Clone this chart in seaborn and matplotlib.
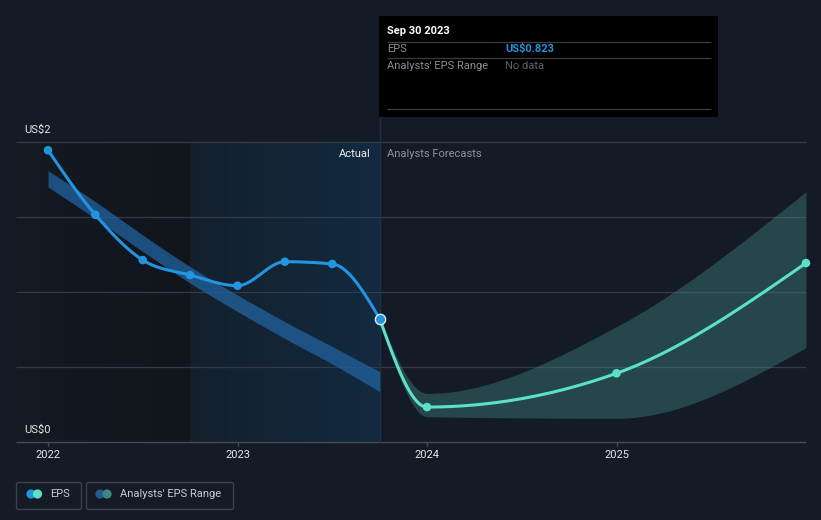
import numpy as np
import pandas as pd
import matplotlib
matplotlib.use("Agg")
import matplotlib.pyplot as plt
import seaborn as sns
from matplotlib.colors import LinearSegmentedColormap
from matplotlib.patches import FancyBboxPatch, Rectangle, Circle
from matplotlib.transforms import IdentityTransform

W, H = 821, 520

# EPS real (trimestral)
eps_dates = [2022.0, 2022.25, 2022.5, 2022.75, 2023.0, 2023.25, 2023.5, 2023.75]
eps_values = [1.945, 1.515, 1.213, 1.113, 1.042, 1.202, 1.187, 0.823]

# banda histórica de estimaciones
past_low = [1.70, 1.49, 1.27, 1.06, 0.87, 0.69, 0.52, 0.336]
past_high = [1.809, 1.602, 1.38, 1.169, 0.98, 0.802, 0.636, 0.469]

# pronóstico de analistas
fc_dates = [2023.75, 2024.0, 2025.0, 2026.0]
fc_values = [0.823, 0.233, 0.458, 1.193]
fc_low = [0.823, 0.169, 0.158, 0.629]
fc_high = [0.823, 0.324, 0.769, 1.669]

year_ticks = [2022, 2023, 2024, 2025]
grid_values = [0, 0.5, 1.0, 1.5, 2.0]

BG = "#151b26"
BLUE = "#2394df"
MINT = "#5ce1c9"
GRID = "#353b46"

# mapeo pixel <-> datos (eje ocupa toda la figura)
PPX = 189.5
PPY = 150.0
X0 = 2022 - 48 / PPX
Y_TOP = 442 / PPY


def px(xp):
    return X0 + xp / PPX


def py(yp):
    return Y_TOP - yp / PPY


def monotone(xs, ys, n=40):
    # curva monotona tipo d3.curveMonotoneX
    x = np.asarray(xs, float)
    y = np.asarray(ys, float)
    h = np.diff(x)
    s = np.diff(y) / h
    m = np.zeros_like(x)
    for i in range(1, len(x) - 1):
        p = (s[i - 1] * h[i] + s[i] * h[i - 1]) / (h[i - 1] + h[i])
        m[i] = (np.sign(s[i - 1]) + np.sign(s[i])) * min(abs(s[i - 1]), abs(s[i]), 0.5 * abs(p))
    m[0] = (3 * s[0] - m[1]) / 2
    m[-1] = (3 * s[-1] - m[-2]) / 2
    out_x, out_y = [], []
    for i in range(len(x) - 1):
        t = np.linspace(0, 1, n, endpoint=(i == len(x) - 2))
        h00 = 2 * t**3 - 3 * t**2 + 1
        h10 = t**3 - 2 * t**2 + t
        h01 = -2 * t**3 + 3 * t**2
        h11 = t**3 - t**2
        out_x.append(x[i] + t * h[i])
        out_y.append(h00 * y[i] + h10 * h[i] * m[i] + h01 * y[i + 1] + h11 * h[i] * m[i + 1])
    return np.concatenate(out_x), np.concatenate(out_y)


sns.set_theme(style="dark")
plt.rcParams["font.family"] = ["Roboto", "DejaVu Sans"]

fig = plt.figure(figsize=(W / 100, H / 100), dpi=100, facecolor=BG)
ax = fig.add_axes([0, 0, 1, 1])
ax.set_facecolor(BG)
ax.set_xlim(X0, X0 + W / PPX)
ax.set_ylim(Y_TOP - H / PPY, Y_TOP)
ax.axis("off")

x_left, x_right = px(16), 2026.0

# zonas sombreadas
grad = np.linspace(0, 1, 256).reshape(1, -1)
dark_cmap = LinearSegmentedColormap.from_list("d", ["#151a23", "#11151c"])
ax.imshow(grad, cmap=dark_cmap, aspect="auto", interpolation="bilinear",
          extent=[x_left, 2022.75, 0, 2], zorder=0)
hl_cmap = LinearSegmentedColormap.from_list("h", ["#14202c", "#122a40"])
ax.imshow(grad, cmap=hl_cmap, aspect="auto", interpolation="bilinear",
          extent=[2022.75, 2023.75, 0, 2], zorder=0)

# rejilla
ax.hlines(grid_values[1:], x_left, x_right, color=GRID, lw=0.9, zorder=1)
ax.hlines(0, x_left, x_right, color="#454a54", lw=1.0, zorder=1)
for yr in year_ticks:
    ax.vlines(yr, py(442), py(446), color="#454a54", lw=1.0, zorder=1)

# linea vertical del tooltip
ax.vlines(2023.75, 0, py(15), color="#1d3247", lw=1.0, zorder=1)

# banda historica
bx, bl = monotone(eps_dates, past_low)
_, bh = monotone(eps_dates, past_high)
ax.fill_between(bx, bl, bh, color="#21609a", alpha=0.78, lw=0, zorder=2)

# banda de pronostico
fx, fl = monotone(fc_dates, fc_low)
_, fh = monotone(fc_dates, fc_high)
ax.fill_between(fx, fl, fh, color="#3d8582", alpha=0.42, lw=0, zorder=2)

# lineas EPS
ex, ey = monotone(eps_dates, eps_values)
sns.lineplot(data=pd.DataFrame({"x": ex, "y": ey}), x="x", y="y", ax=ax, color=BLUE,
             lw=2.2, sort=False, estimator=None, zorder=4)
gx, gy = monotone(fc_dates, fc_values)
sns.lineplot(data=pd.DataFrame({"x": gx, "y": gy}), x="x", y="y", ax=ax, color=MINT,
             lw=2.2, sort=False, estimator=None, zorder=4)

sns.scatterplot(x=eps_dates[:-1], y=eps_values[:-1], ax=ax, color=BLUE, s=38,
                edgecolor="none", zorder=5)
sns.scatterplot(x=fc_dates[1:], y=fc_values[1:], ax=ax, color=MINT, s=38,
                edgecolor="none", zorder=5)
sns.scatterplot(x=[eps_dates[-1]], y=[eps_values[-1]], ax=ax, color=BLUE, s=55,
                edgecolor="#dfe9f3", linewidth=1.0, zorder=6)

# etiquetas del eje
ax.text(px(24), 2.08, "US$2", color="#e6e6e6", fontsize=8, va="center", ha="left")
ax.text(px(24), 0.08, "US$0", color="#e6e6e6", fontsize=8, va="center", ha="left")
for yr in year_ticks:
    ax.text(yr, py(455), str(yr), color="#e6e6e6", fontsize=8, va="center", ha="center")

ax.text(px(371), py(154), "Actual", color="#f0f0f0", fontsize=8, va="center", ha="right")
ax.text(px(387), py(154), "Analysts Forecasts", color="#8e939b", fontsize=8,
        va="center", ha="left")

# tooltip
ax.add_patch(Rectangle((px(379), py(117)), (718 - 379) / PPX, (117 - 16) / PPY,
                       facecolor="#000000", edgecolor="none", zorder=7))
for yl in [41.5, 58.3, 109]:
    ax.hlines(py(yl), px(387), px(711), color="#3a3d43", lw=0.9, zorder=8)
ax.text(px(387), py(31), "Sep 30 2023", color="#ffffff", fontsize=8, fontweight="bold",
        va="center", ha="left", zorder=9)
ax.text(px(387), py(49.3), "EPS", color="#8a8f98", fontsize=8, va="center", ha="left", zorder=9)
ax.text(px(505), py(49.3), "US$0.823", color=BLUE, fontsize=8, fontweight="bold",
        va="center", ha="left", zorder=9)
ax.text(px(387), py(66), "Analysts' EPS Range", color="#8a8f98", fontsize=8,
        va="center", ha="left", zorder=9)
ax.text(px(505), py(66), "No data", color="#5d626b", fontsize=8, va="center",
        ha="left", zorder=9)

# leyenda (coordenadas en pixeles)
idt = IdentityTransform()
for x1, x2 in [(16.5, 81.5), (86.5, 233.5)]:
    fig.patches.append(FancyBboxPatch((x1, H - 509.5), x2 - x1, 27,
                                      boxstyle="round,pad=0,rounding_size=2",
                                      facecolor="none", edgecolor="#3b414c", lw=1.0,
                                      transform=idt, figure=fig))
for cx, col in [(31, BLUE), (37.5, MINT), (100, "#1f5d8f"), (107, "#3f8583")]:
    fig.patches.append(Circle((cx, H - 494), 4.6, facecolor=col, edgecolor="none",
                              transform=idt, figure=fig))
fig.text(50, H - 494, "EPS", color="#c9ccd1", fontsize=8, va="center", ha="left",
         transform=idt)
fig.text(120, H - 494, "Analysts' EPS Range", color="#c9ccd1", fontsize=8, va="center",
         ha="left", transform=idt)

fig.savefig("out.png", dpi=100, facecolor=BG)
